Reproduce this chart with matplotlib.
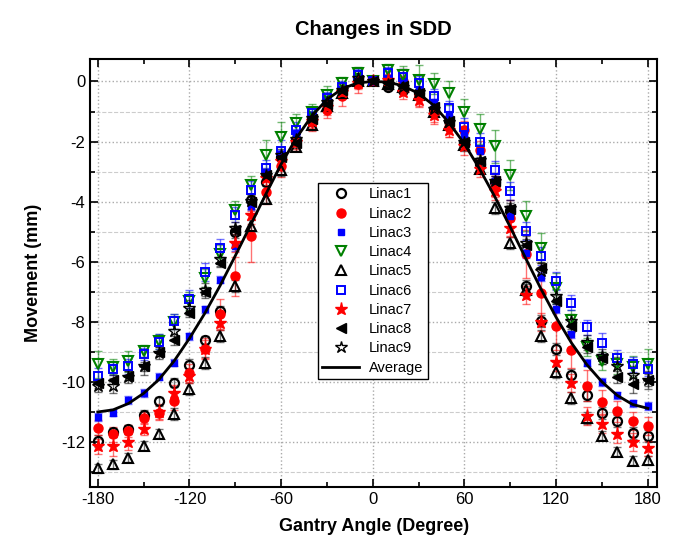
import matplotlib
matplotlib.use("Agg")
import matplotlib.pyplot as plt
from matplotlib.ticker import MultipleLocator

plt.rcParams['font.family'] = ['Liberation Sans', 'DejaVu Sans']
plt.rcParams['axes.unicode_minus'] = False

# gantry angles (degrees)
angles = list(range(-180, 181, 10))

# measured SDD movement (mm) per linac
linac1 = [-11.97, -11.67, -11.57, -11.1, -10.64, -10.03, -9.45, -8.61, -7.63, -5.02, -3.94, -3.33, -2.5,
          -1.94, -1.22, -0.73, -0.28, 0.1, 0.0, -0.17, -0.28, -0.39, -0.95, -1.33, -2.05, -2.75, -3.33,
          -4.32, -6.82, -7.98, -8.89, -9.78, -10.42, -11.05, -11.3, -11.69, -11.79]
linac2 = [-11.52, -11.74, -11.65, -11.19, -11.02, -10.64, -9.7, -8.9, -7.73, -6.48, -5.15, -3.68, -2.83,
          -2.0, -1.35, -0.95, -0.5, -0.08, 0.0, 0.05, 0.0, -0.5, -1.06, -1.5, -1.6, -2.27, -3.5,
          -4.55, -5.75, -7.04, -8.14, -8.94, -10.12, -10.68, -10.97, -11.3, -11.47]
linac3 = [-11.17, -11.02, -10.6, -10.37, -9.83, -9.36, -8.48, -7.59, -6.6, -5.49, -4.16, -3.0, -2.4,
          -1.7, -1.1, -0.6, -0.25, 0.15, 0.0, 0.1, 0.0, -0.3, -0.7, -1.1, -1.78, -2.3, -3.3,
          -4.49, -5.71, -6.5, -7.56, -8.42, -9.36, -10.0, -10.45, -10.71, -10.8]
linac4 = [-9.42, -9.5, -9.31, -8.98, -8.64, -8.0, -7.3, -6.54, -5.75, -4.27, -3.45, -2.44, -1.84,
          -1.38, -1.0, -0.45, -0.06, 0.27, 0.0, 0.38, 0.22, 0.05, -0.08, -0.39, -1.03, -1.58, -2.16,
          -3.1, -4.49, -5.54, -6.86, -7.95, -8.85, -9.31, -9.4, -9.5, -9.42]
linac5 = [-12.87, -12.74, -12.52, -12.13, -11.72, -11.06, -10.25, -9.37, -8.48, -6.8, -4.82, -3.9, -2.94,
          -2.17, -1.45, -0.8, -0.4, 0.0, 0.0, -0.1, -0.2, -0.45, -1.0, -1.45, -2.11, -2.9, -4.2,
          -5.38, -6.95, -8.46, -9.67, -10.55, -11.2, -11.8, -12.33, -12.63, -12.6]
linac6 = [-9.79, -9.56, -9.48, -9.06, -8.67, -7.98, -7.24, -6.35, -5.54, -4.43, -3.6, -2.88, -2.31,
          -1.61, -1.05, -0.54, -0.19, 0.2, 0.0, 0.27, 0.16, -0.06, -0.5, -0.89, -1.5, -2.0, -2.94,
          -3.64, -4.97, -5.82, -6.65, -7.37, -8.18, -8.71, -9.2, -9.42, -9.56]
linac7 = [-12.15, -12.15, -12.0, -11.58, -11.0, -10.36, -9.79, -8.9, -8.03, -5.38, -4.43, -3.2, -2.65,
          -2.0, -1.3, -0.85, -0.34, -0.06, 0.0, 0.05, -0.34, -0.61, -1.1, -1.61, -2.15, -2.92, -3.66,
          -4.88, -7.12, -8.01, -9.34, -10.03, -11.13, -11.41, -11.74, -12.0, -12.21]
linac8 = [-10.05, -9.92, -9.8, -9.48, -9.0, -8.61, -7.7, -7.0, -6.04, -4.95, -4.0, -3.1, -2.5,
          -2.05, -1.25, -0.75, -0.3, 0.05, 0.0, -0.05, -0.15, -0.4, -0.85, -1.3, -2.0, -2.65, -3.3,
          -4.25, -5.45, -6.21, -7.31, -8.15, -8.84, -9.2, -9.83, -10.07, -9.95]
linac9 = [-10.14, -10.12, -9.84, -9.47, -9.03, -8.31, -7.53, -6.95, -5.9, -4.88, -3.99, -3.1, -2.45,
          -1.9, -1.2, -0.7, -0.3, 0.1, 0.0, -0.1, -0.2, -0.35, -0.9, -1.35, -2.0, -2.6, -3.3,
          -4.2, -5.38, -6.3, -7.15, -7.98, -8.68, -9.14, -9.47, -9.77, -9.93]

# error bars (mm)
err1 = [0.2, 0.15, 0.15, 0.15, 0.15, 0.15, 0.2, 0.15, 0.15, 0.2, 0.15, 0.15, 0.15, 0.15, 0.15, 0.15, 0.1,
        0.1, 0.0, 0.1, 0.15, 0.15, 0.15, 0.15, 0.2, 0.15, 0.2, 0.2, 0.2, 0.2, 0.2, 0.2, 0.2, 0.2, 0.2, 0.2, 0.2]
err2 = [0.25, 0.25, 0.2, 0.2, 0.25, 0.3, 0.3, 0.35, 0.5, 0.65, 0.85, 0.4, 0.35, 0.3, 0.3, 0.25, 0.3,
        0.3, 0.0, 0.3, 0.4, 0.3, 0.35, 0.35, 0.3, 0.3, 0.35, 0.6, 0.8, 1.0, 0.8, 0.6, 0.5, 0.4, 0.35, 0.3, 0.3]
err3 = [0.12, 0.12, 0.12, 0.12, 0.12, 0.12, 0.12, 0.12, 0.12, 0.15, 0.12, 0.12, 0.12, 0.12, 0.12, 0.12, 0.1,
        0.1, 0.0, 0.1, 0.1, 0.12, 0.12, 0.12, 0.12, 0.12, 0.15, 0.15, 0.15, 0.15, 0.15, 0.12, 0.12, 0.12, 0.12, 0.12, 0.12]
err4 = [0.46, 0.25, 0.35, 0.2, 0.25, 0.25, 0.3, 0.3, 0.3, 0.3, 0.3, 0.48, 0.5, 0.3, 0.25, 0.3, 0.2,
        0.2, 0.0, 0.2, 0.3, 0.5, 0.35, 0.4, 0.45, 0.5, 0.55, 0.5, 0.5, 0.5, 0.5, 0.35, 0.3, 0.3, 0.35, 0.35, 0.5]
err5 = [0.15, 0.15, 0.15, 0.15, 0.15, 0.2, 0.2, 0.2, 0.2, 0.2, 0.2, 0.15, 0.2, 0.15, 0.15, 0.15, 0.1,
        0.1, 0.0, 0.1, 0.15, 0.15, 0.15, 0.15, 0.2, 0.15, 0.2, 0.2, 0.2, 0.2, 0.2, 0.2, 0.2, 0.15, 0.15, 0.15, 0.15]
err6 = [0.25, 0.22, 0.25, 0.2, 0.25, 0.25, 0.3, 0.3, 0.3, 0.25, 0.3, 0.25, 0.35, 0.25, 0.2, 0.2, 0.2,
        0.2, 0.0, 0.2, 0.25, 0.25, 0.25, 0.25, 0.3, 0.3, 0.3, 0.3, 0.3, 0.3, 0.3, 0.25, 0.25, 0.35, 0.25, 0.25, 0.25]
err7 = [0.25, 0.3, 0.25, 0.2, 0.25, 0.25, 0.25, 0.3, 0.25, 0.3, 0.3, 0.25, 0.3, 0.25, 0.25, 0.25, 0.2,
        0.2, 0.0, 0.2, 0.25, 0.25, 0.25, 0.25, 0.3, 0.25, 0.3, 0.3, 0.3, 0.3, 0.3, 0.3, 0.3, 0.3, 0.3, 0.3, 0.25]
err8 = [0.15, 0.15, 0.15, 0.15, 0.15, 0.15, 0.15, 0.15, 0.15, 0.15, 0.15, 0.15, 0.15, 0.15, 0.15, 0.15, 0.1,
        0.1, 0.0, 0.1, 0.1, 0.15, 0.15, 0.15, 0.15, 0.15, 0.15, 0.2, 0.2, 0.2, 0.2, 0.2, 0.2, 0.2, 0.2, 0.3, 0.2]
err9 = [0.2, 0.25, 0.2, 0.3, 0.2, 0.25, 0.25, 0.25, 0.25, 0.2, 0.25, 0.2, 0.2, 0.2, 0.2, 0.2, 0.15,
        0.15, 0.0, 0.15, 0.2, 0.2, 0.2, 0.2, 0.25, 0.25, 0.25, 0.25, 0.25, 0.25, 0.25, 0.25, 0.25, 0.25, 0.3, 0.3, 0.3]

# average curve (mm)
average = [-11.0, -10.93, -10.72, -10.38, -9.92, -9.3, -8.55, -7.72, -6.8, -5.8, -4.78, -3.75, -2.75,
           -1.88, -1.15, -0.6, -0.24, -0.05, 0.0, -0.02, -0.15, -0.4, -0.8, -1.38, -2.08, -2.92, -3.85,
           -4.85, -5.88, -6.9, -7.85, -8.7, -9.42, -10.0, -10.45, -10.75, -10.88]

series = [
    ("Linac1", linac1, err1, dict(marker='o', mfc='none', mec='black', ms=6.5, mew=1.6), 'black'),
    ("Linac2", linac2, err2, dict(marker='o', mfc='red', mec='red', ms=6.5), 'red'),
    ("Linac3", linac3, err3, dict(marker='s', mfc='blue', mec='blue', ms=5), 'blue'),
    ("Linac4", linac4, err4, dict(marker='v', mfc='none', mec='green', ms=7, mew=1.5), 'green'),
    ("Linac5", linac5, err5, dict(marker='^', mfc='none', mec='black', ms=7, mew=1.5), 'black'),
    ("Linac6", linac6, err6, dict(marker='s', mfc='none', mec='blue', ms=5.8, mew=1.4), 'blue'),
    ("Linac7", linac7, err7, dict(marker='*', mfc='red', mec='red', ms=9.5), 'red'),
    ("Linac8", linac8, err8, dict(marker='<', mfc='black', mec='black', ms=6.5), 'black'),
    ("Linac9", linac9, err9, dict(marker='*', mfc='none', mec='black', ms=9, mew=1.0), 'black'),
]

fig = plt.figure(figsize=(6.78, 5.56), dpi=100)
ax = fig.add_axes([0.133, 0.124, 0.836, 0.770])

for name, vals, err, style, col in series:
    ax.errorbar(angles, vals, yerr=err, fmt='none', ecolor=col, alpha=0.55,
                elinewidth=1.0, capsize=3, capthick=1.0, zorder=2)
    ax.plot(angles, vals, linestyle='none', label=name, zorder=3, **style)

ax.plot(angles, average, color='black', lw=2, label='Average', zorder=4)

ax.set_xlim(-185, 186)
ax.set_ylim(-13.5, 0.75)
ax.xaxis.set_major_locator(MultipleLocator(60))
ax.xaxis.set_minor_locator(MultipleLocator(30))
ax.yaxis.set_major_locator(MultipleLocator(2))
ax.yaxis.set_minor_locator(MultipleLocator(1))
ax.tick_params(which='both', direction='in', top=True, right=True, width=1.2)
ax.tick_params(which='major', length=6, labelsize=12)
ax.tick_params(which='minor', length=3.5)
ax.grid(which='major', axis='both', linestyle=':', color='#aaaaaa', lw=1)
ax.grid(which='minor', axis='y', linestyle='--', color='#cccccc', lw=0.8)
for s in ax.spines.values():
    s.set_linewidth(1.5)

ax.set_title('Changes in SDD', fontsize=14.5, fontweight='bold', pad=17)
ax.set_xlabel('Gantry Angle (Degree)', fontsize=13, fontweight='bold', labelpad=8)
ax.set_ylabel('Movement (mm)', fontsize=13, fontweight='bold', labelpad=14)

leg = ax.legend(loc='upper left', bbox_to_anchor=(0.402, 0.71), fontsize=10.5,
                frameon=True, fancybox=False, edgecolor='black', framealpha=1,
                borderpad=0.3, labelspacing=0.36, handlelength=2.5, handletextpad=0.7,
                borderaxespad=0)
leg.get_frame().set_linewidth(1.0)

fig.savefig('out.png', dpi=100)
